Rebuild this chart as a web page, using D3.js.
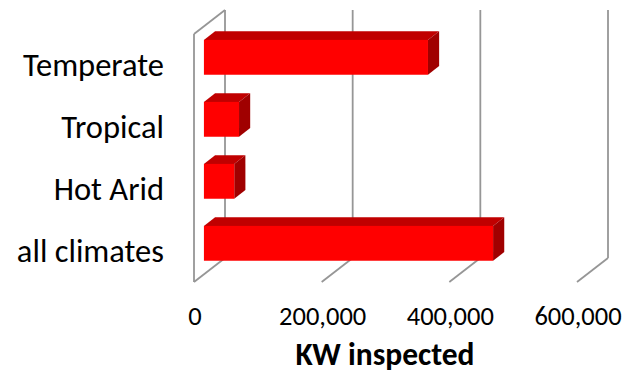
<!DOCTYPE html>
<html>
<head>
<meta charset="utf-8">
<script src="https://cdn.jsdelivr.net/npm/d3@7"></script>
<style>
  html, body { margin: 0; padding: 0; background: #fff; }
  svg { display: block; }
  text { font-family: Carlito, Calibri, "Open Sans", sans-serif; fill: #000; }
</style>
</head>
<body>
<svg id="chart" width="623" height="377"></svg>
<script>
// Kilowatts inspected per climate zone (bottom-to-top order of the bar chart)
const categories = ["all climates", "Hot Arid", "Tropical", "Temperate"];
const kwInspected = [453000, 47500, 55000, 351000];
const tickValues = [0, 200000, 400000, 600000];
const axisTitle = "KW inspected";

const svg = d3.select("#chart");

// Front plane of the 3-D box; the back plane is shifted by the depth vector
const front = { left: 194, right: 577, top: 34, bottom: 282 };
const depth = { dx: 31, dy: -24 };
// Bars sit between these fractions of the box depth
const barDepth0 = 0.32, barDepth1 = 0.68;

const x = d3.scaleLinear().domain([0, 600000]).range([front.left, front.right]);
const y = d3.scaleBand()
  .domain(categories)
  .range([front.bottom, front.top])
  .paddingInner(0.438)
  .paddingOuter(0.219);

const gridColor = "#969696";
const grid = svg.append("g")
  .attr("fill", "none")
  .attr("stroke", gridColor)
  .attr("stroke-width", 1.8);

// Back-wall vertical gridlines
grid.selectAll("line.back")
  .data(tickValues)
  .join("line")
  .attr("class", "back")
  .attr("x1", d => x(d) + depth.dx).attr("x2", d => x(d) + depth.dx)
  .attr("y1", front.top + depth.dy).attr("y2", front.bottom + depth.dy);

// Floor gridlines running from front to back
grid.selectAll("line.floor")
  .data(tickValues)
  .join("line")
  .attr("class", "floor")
  .attr("x1", d => x(d)).attr("y1", front.bottom)
  .attr("x2", d => x(d) + depth.dx).attr("y2", front.bottom + depth.dy);

// Left side wall: front edge and top edge
grid.append("line")
  .attr("x1", x(0)).attr("x2", x(0))
  .attr("y1", front.top).attr("y2", front.bottom);
grid.append("line")
  .attr("x1", x(0)).attr("y1", front.top)
  .attr("x2", x(0) + depth.dx).attr("y2", front.top + depth.dy);

// 3-D bars: top face, side face, front face
const ox = depth.dx * barDepth0, oy = depth.dy * barDepth0;
const bx = depth.dx * (barDepth1 - barDepth0), by = depth.dy * (barDepth1 - barDepth0);

const bars = svg.append("g")
  .selectAll("g.bar")
  .data(categories.map((c, i) => ({ cat: c, value: kwInspected[i] })))
  .join("g")
  .attr("class", "bar");

bars.each(function (d) {
  const g = d3.select(this);
  const x0 = x(0) + ox, x1 = x(d.value) + ox;
  const y0 = y(d.cat) + oy, y1 = y0 + y.bandwidth();
  const path = pts => "M" + pts.map(p => p.join(",")).join("L") + "Z";
  g.append("path")
    .attr("d", path([[x0, y0], [x0 + bx, y0 + by], [x1 + bx, y0 + by], [x1, y0]]))
    .attr("fill", "#c00000");
  g.append("path")
    .attr("d", path([[x1, y0], [x1 + bx, y0 + by], [x1 + bx, y1 + by], [x1, y1]]))
    .attr("fill", "#a00000");
  g.append("rect")
    .attr("x", x0).attr("y", y0)
    .attr("width", x1 - x0).attr("height", y1 - y0)
    .attr("fill", "#ff0000");
});

// Category labels
svg.append("g")
  .selectAll("text")
  .data(categories)
  .join("text")
  .attr("x", 164)
  .attr("y", d => y(d) + y.bandwidth() / 2 + 11)
  .attr("text-anchor", "end")
  .attr("font-size", 32.5)
  .text(d => d);

// Value axis tick labels
const fmt = d3.format(",");
svg.append("g")
  .selectAll("text")
  .data(tickValues)
  .join("text")
  .attr("x", d => x(d) + 1)
  .attr("y", 325)
  .attr("text-anchor", "middle")
  .attr("font-size", 26.5)
  .text(d => fmt(d));

// Axis title
svg.append("text")
  .attr("x", 385)
  .attr("y", 365)
  .attr("text-anchor", "middle")
  .attr("font-size", 31.5)
  .attr("font-weight", "bold")
  .text(axisTitle);
</script>
</body>
</html>
